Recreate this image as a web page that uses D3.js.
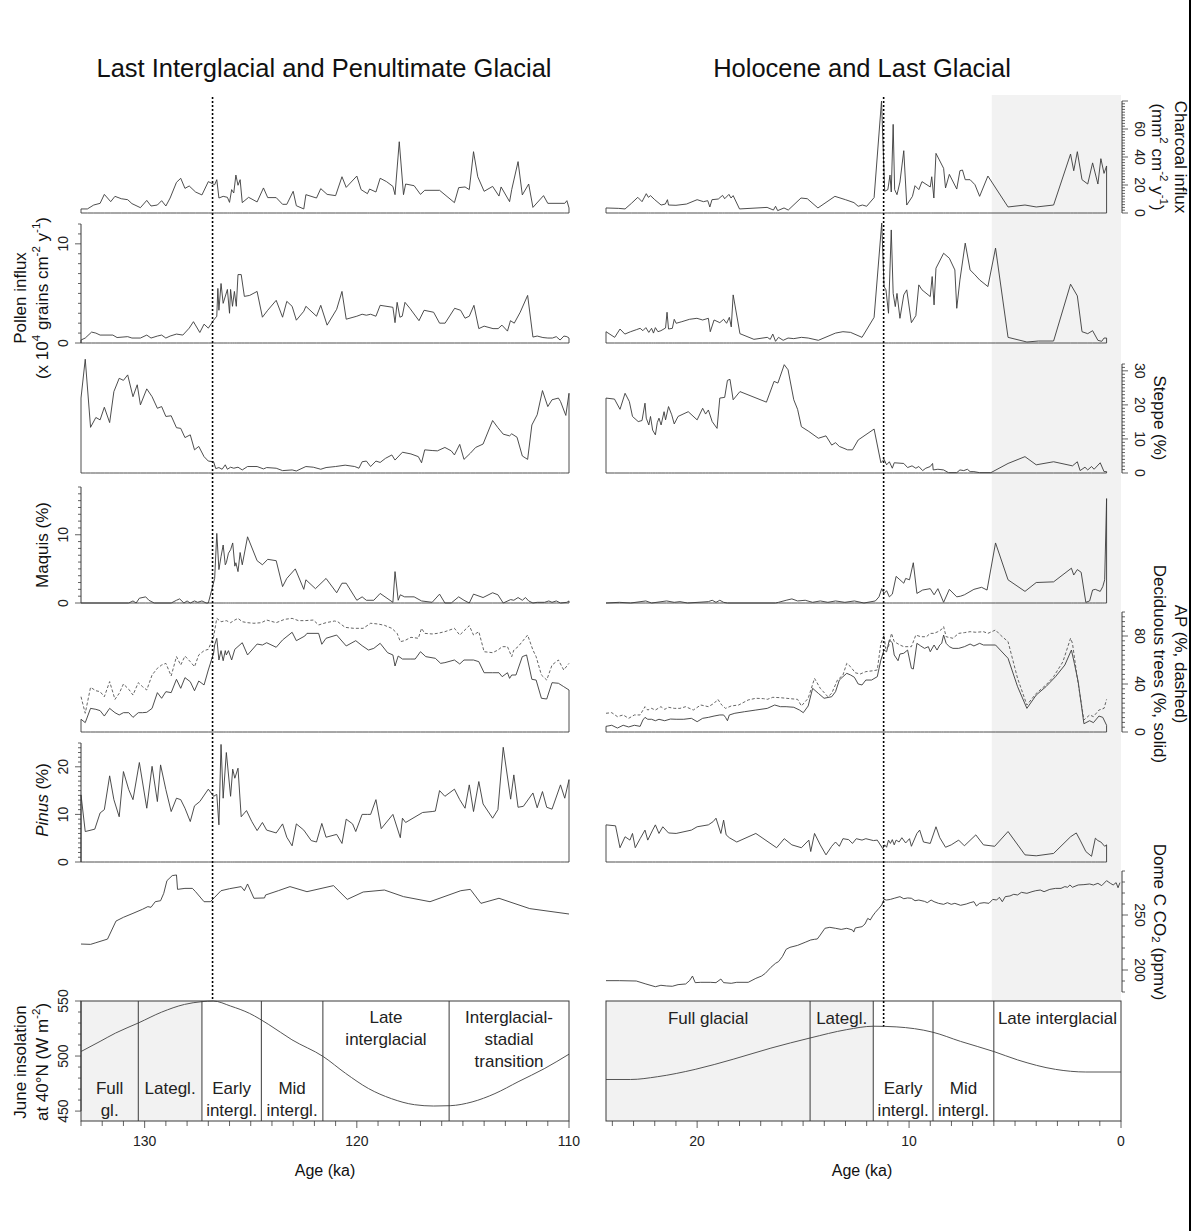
<!DOCTYPE html>
<html>
<head>
<meta charset="utf-8">
<script src="https://cdn.jsdelivr.net/npm/d3@7"></script>
<style>
body { margin: 0; background: #fff; }
svg { display: block; font-family: "Liberation Sans", Arial, sans-serif; }
</style>
</head>
<body>
<svg id="chart" width="1194" height="1231"></svg>
<script>
// ---- data: [age ka, value] ----
var charcoalLeft = [[133.0,2.9],[132.7,2.9],[132.4,5.7],[132.1,6.9],[131.9,13.3],[131.6,8.1],[131.4,11.9],[131.1,10.2],[130.8,9.5],[130.6,6.7],[130.2,3.8],[129.9,9.0],[129.7,5.0],[129.4,5.7],[129.2,8.8],[129.0,5.0],[128.8,10.7],[128.5,21.9],[128.3,24.8],[128.1,17.6],[127.9,19.3],[127.6,15.0],[127.3,12.9],[127.0,22.4],[126.7,20.2],[126.6,23.8],[126.5,10.7],[126.3,11.9],[126.1,11.2],[126.0,7.6],[125.9,16.7],[125.8,14.3],[125.7,27.1],[125.6,19.8],[125.5,23.8],[125.4,7.4],[125.1,11.2],[124.7,7.9],[124.4,17.9],[124.2,11.0],[123.8,11.0],[123.5,6.2],[123.3,6.2],[123.0,15.5],[122.85,5.2],[122.5,2.9],[122.4,13.1],[121.9,10.7],[121.7,17.4],[121.4,13.3],[121.0,12.4],[120.7,25.9],[120.5,18.3],[120.0,26.4],[119.8,16.7],[119.5,13.8],[119.4,17.1],[119.1,15.0],[118.9,24.8],[118.6,22.4],[118.3,19.0],[118.2,13.1],[118.0,50.9],[117.8,13.1],[117.7,20.7],[117.3,19.5],[117.0,13.3],[116.8,16.2],[116.1,16.2],[115.4,7.4],[115.2,18.1],[114.9,18.6],[114.7,16.7],[114.5,43.8],[114.3,25.9],[114.0,15.5],[113.6,19.0],[113.3,12.1],[113.2,18.6],[112.8,8.1],[112.7,16.7],[112.4,36.7],[112.2,12.9],[111.9,20.7],[111.7,4.0],[111.2,12.4],[111.0,6.9],[110.2,6.9],[110.1,8.8],[110.0,3.6]];
var charcoalRight = [[24.3,3.6],[23.7,3.3],[23.4,2.9],[23.1,6.9],[22.8,11.2],[22.6,8.1],[22.4,13.8],[22.3,11.2],[22.2,12.4],[22.0,9.5],[21.7,5.7],[21.5,6.4],[21.4,9.5],[21.35,5.7],[21.0,5.5],[20.5,6.4],[20.0,9.5],[19.7,8.1],[19.5,8.8],[19.4,4.3],[19.3,9.5],[19.0,10.0],[18.8,12.6],[18.7,10.2],[18.5,13.3],[18.4,10.7],[18.3,12.4],[18.0,2.9],[16.7,4.0],[16.4,2.1],[16.3,4.8],[16.2,1.7],[15.9,3.6],[15.7,2.1],[15.1,10.7],[14.8,10.2],[14.3,3.6],[13.5,11.9],[13.0,9.5],[12.6,7.4],[12.4,4.8],[12.2,5.7],[12.0,4.8],[11.65,11.0],[11.3,80],[11.15,15.5],[11.0,16.7],[10.9,27.1],[10.84,15.0],[10.75,63.3],[10.68,16.7],[10.57,13.1],[10.43,22.1],[10.25,44.5],[10.11,5.7],[9.84,11.9],[9.72,19.5],[9.54,16.7],[9.39,22.4],[9.0,18.6],[8.93,25.9],[8.83,10.7],[8.73,42.6],[8.37,31.9],[8.28,17.9],[8.10,27.6],[7.75,17.1],[7.60,30.2],[7.48,30.7],[7.35,23.8],[7.12,23.8],[6.89,20.2],[6.67,11.9],[6.28,26.4],[5.33,4.3],[4.53,5.7],[4.0,4.3],[3.18,5.7],[2.38,42.1],[2.23,30.2],[2.06,43.8],[1.84,23.8],[1.57,20.7],[1.34,35.8],[1.09,20.7],[0.95,38.8],[0.80,28.3],[0.68,33.6]];

var pollenLeft = [[133.0,0.3],[132.8,0.5],[132.5,1.1],[132.3,1.0],[132.1,0.8],[131.5,0.8],[131.3,0.55],[130.8,0.64],[130.6,0.5],[130.2,0.5],[129.9,0.8],[129.7,0.5],[129.4,0.7],[129.2,0.8],[129.0,0.5],[128.8,0.7],[128.5,0.9],[128.2,0.8],[127.9,1.5],[127.7,2.15],[127.4,1.06],[127.2,1.9],[127.0,1.5],[126.75,2.3],[126.6,2.7],[126.55,5.5],[126.5,3.3],[126.4,6.0],[126.3,4.0],[126.1,5.4],[126.0,3.0],[125.95,5.4],[125.86,3.7],[125.77,5.2],[125.68,3.7],[125.6,6.9],[125.45,6.9],[125.3,4.7],[125.05,4.8],[124.7,5.2],[124.45,2.6],[124.2,3.3],[123.8,4.3],[123.5,2.6],[123.3,4.2],[123.05,3.7],[122.85,2.3],[122.5,3.2],[122.4,3.7],[121.9,2.7],[121.7,3.8],[121.4,1.8],[120.95,3.4],[120.7,5.2],[120.5,2.4],[120.0,2.7],[119.75,2.9],[119.55,2.8],[119.35,2.9],[119.1,2.7],[118.9,3.8],[118.3,3.6],[118.2,2.05],[118.1,4.1],[117.97,2.6],[117.86,2.7],[117.73,4.1],[117.5,3.5],[117.07,2.25],[116.83,3.3],[116.38,3.1],[116.1,2.0],[115.84,2.0],[115.39,3.5],[115.11,3.3],[114.9,2.5],[114.7,2.7],[114.48,3.8],[114.25,1.45],[114.0,1.7],[113.58,1.45],[113.34,1.45],[113.16,1.8],[112.9,1.2],[112.76,2.25],[112.58,2.0],[112.3,3.1],[111.95,4.8],[111.7,0.6],[111.5,0.7],[111.23,0.55],[111.0,0.5],[110.78,0.5],[110.6,0.64],[110.42,0.3],[110.24,0.7],[110.1,0.64],[110.0,0.5]];
var pollenRight = [[24.3,1.14],[23.89,0.57],[23.64,1.41],[23.41,0.9],[23.14,1.14],[22.87,1.34],[22.69,1.48],[22.56,1.24],[22.42,1.55],[22.28,1.07],[22.15,1.48],[22.06,1.0],[21.97,1.55],[21.85,1.14],[21.71,1.24],[21.49,1.51],[21.42,3.1],[21.35,1.41],[21.17,1.48],[21.08,2.39],[20.99,1.99],[20.72,2.15],[20.36,2.39],[20.01,2.49],[19.74,2.32],[19.47,2.49],[19.38,1.14],[19.2,2.32],[18.93,2.05],[18.75,2.39],[18.61,1.99],[18.48,2.59],[18.39,1.62],[18.3,4.85],[17.98,0.94],[17.32,0.37],[16.69,0.57],[16.55,0.37],[16.43,0.9],[16.3,0.17],[16.16,0.57],[15.94,0.27],[15.71,0.5],[15.44,0.44],[15.08,0.57],[14.76,0.5],[14.28,0.27],[13.47,1.0],[13.12,1.14],[12.76,1.07],[12.22,0.57],[11.65,2.59],[11.29,12.1],[11.18,5.69],[11.09,5.36],[10.97,3.0],[10.84,11.4],[10.75,5.0],[10.65,3.67],[10.57,5.0],[10.43,2.49],[10.25,4.85],[10.11,5.36],[9.89,2.05],[9.68,2.76],[9.54,5.86],[9.39,5.36],[9.0,4.68],[8.91,6.7],[8.82,3.84],[8.73,7.54],[8.37,9.05],[8.1,8.55],[7.84,7.37],[7.75,3.5],[7.6,6.36],[7.35,10.07],[7.12,7.37],[6.89,6.87],[6.67,6.36],[6.28,5.69],[5.92,9.57],[5.33,0.57],[4.44,0.1],[3.9,0.2],[3.18,0.2],[2.38,5.93],[2.06,4.75],[1.84,1.14],[1.57,0.94],[1.34,1.24],[1.09,0.27],[0.91,0.17],[0.8,0.5],[0.68,0.5]];

var steppeLeft = [[133.0,22.0],[132.8,33.4],[132.55,13.4],[132.3,16.3],[132.1,15.6],[131.9,19.3],[131.65,14.8],[131.45,23.9],[131.2,27.8],[131.0,27.2],[130.8,28.8],[130.55,22.4],[130.35,25.9],[130.2,20.0],[129.9,24.7],[129.65,22.4],[129.4,19.0],[129.2,19.5],[129.0,16.6],[128.75,16.8],[128.5,13.3],[128.3,13.1],[128.1,10.4],[127.85,11.2],[127.65,6.8],[127.45,7.8],[127.2,4.8],[127.0,3.5],[126.75,3.3],[126.65,1.3],[126.5,1.6],[126.35,1.1],[126.2,2.4],[126.1,1.1],[125.95,1.7],[125.8,1.4],[125.6,1.7],[125.4,0.9],[125.15,1.9],[124.7,1.9],[124.4,1.2],[124.25,1.6],[123.8,1.4],[123.5,0.7],[123.05,0.9],[122.85,0.6],[122.4,1.9],[122.05,1.7],[121.7,1.1],[121.45,1.6],[121.0,1.9],[120.55,2.3],[120.1,1.9],[119.9,1.4],[119.75,3.3],[119.55,3.5],[119.35,1.9],[119.1,3.5],[118.9,3.1],[118.65,4.3],[118.35,5.3],[118.2,3.8],[117.85,6.1],[117.45,5.6],[117.1,4.8],[116.95,3.0],[116.8,6.8],[116.45,6.6],[116.2,6.5],[115.85,7.5],[115.55,6.5],[115.4,5.3],[115.15,8.4],[114.95,4.0],[114.65,5.8],[114.4,7.5],[114.05,8.5],[113.6,15.4],[113.35,13.3],[113.1,11.4],[112.8,10.9],[112.7,11.5],[112.45,10.5],[112.2,5.0],[111.95,4.0],[111.75,14.1],[111.5,17.1],[111.25,24.2],[111.0,19.5],[110.8,21.5],[110.5,22.0],[110.4,21.0],[110.15,16.9],[110.0,23.4]];
var steppeRight = [[24.3,22.0],[23.9,21.7],[23.64,18.7],[23.4,23.4],[23.2,21.0],[23.05,16.6],[22.78,15.1],[22.6,15.4],[22.46,20.5],[22.4,16.1],[22.28,14.1],[22.2,16.6],[22.1,12.6],[21.97,11.2],[21.88,14.8],[21.8,16.1],[21.7,14.1],[21.56,18.0],[21.49,15.6],[21.35,19.5],[21.2,17.1],[21.08,14.4],[20.9,16.6],[20.42,18.0],[20.0,15.6],[19.74,19.0],[19.6,17.3],[19.47,18.5],[19.29,15.1],[19.06,13.1],[18.93,22.0],[18.7,22.2],[18.57,27.2],[18.45,27.5],[18.3,21.5],[17.98,23.9],[16.73,20.8],[16.37,26.9],[16.19,26.4],[15.89,31.8],[15.71,30.3],[15.44,21.5],[15.26,18.7],[15.08,13.6],[14.73,12.2],[14.28,10.2],[13.92,10.9],[13.65,8.2],[13.47,8.9],[13.29,7.8],[12.9,6.8],[12.67,6.8],[12.4,9.7],[11.65,12.9],[11.33,3.0],[11.18,4.0],[11.06,2.4],[10.93,3.3],[10.79,1.4],[10.7,3.0],[10.25,2.8],[10.07,1.6],[9.86,2.1],[9.68,1.4],[9.54,1.9],[9.36,0.7],[9.21,1.4],[9.0,1.9],[8.89,2.8],[8.86,0.9],[8.64,1.1],[8.37,0.9],[8.14,0.1],[7.75,0.1],[7.6,0.9],[7.42,0.7],[7.25,1.1],[7.12,0.4],[6.94,0.4],[6.67,0.1],[6.14,0.1],[5.33,2.8],[4.53,4.8],[4.0,2.4],[3.18,3.3],[2.29,2.1],[2.06,3.3],[1.93,0.7],[1.7,1.7],[1.57,0.9],[1.39,1.9],[1.27,1.1],[0.98,3.0],[0.8,0.4],[0.68,0.4]];

var maquisLeft = [[133.0,0],[130.75,0],[130.55,0.3],[130.4,0],[130.25,0.7],[129.95,0.9],[129.8,0.4],[129.55,0],[128.75,0],[128.5,0.4],[128.35,0.6],[128.15,0],[128.0,0.3],[127.85,0],[127.65,0.3],[127.5,0.1],[127.3,0.3],[127.1,0],[127.0,0],[126.8,2.4],[126.7,3.6],[126.6,10.2],[126.5,4.9],[126.4,6.8],[126.3,8.5],[126.2,5.6],[126.15,5.9],[126.05,7.3],[125.95,7.8],[125.85,8.8],[125.75,5.4],[125.7,5.9],[125.6,4.6],[125.5,7.4],[125.4,5.6],[125.15,9.7],[124.7,6.2],[124.45,5.6],[124.2,6.4],[123.8,6.2],[123.5,2.4],[123.3,3.6],[122.9,5.0],[122.5,2.0],[122.4,3.4],[121.95,2.1],[121.45,3.6],[120.95,1.5],[120.7,2.9],[120.5,2.9],[120.0,0.4],[119.75,0.9],[119.55,0.4],[119.2,0.4],[118.9,1.4],[118.3,0.1],[118.2,4.6],[118.05,0.4],[117.95,1.2],[117.75,0.9],[117.3,0.9],[116.95,0.3],[116.45,0.1],[116.1,1.3],[115.85,0],[115.55,0],[115.2,0.9],[114.95,0.4],[114.7,0],[114.5,1.3],[114.05,0.8],[113.6,1.5],[113.35,1.2],[113.1,0],[112.75,0.5],[112.6,0.4],[112.4,0.8],[112.2,0.4],[112.05,0.8],[111.9,0.3],[111.7,0],[111.5,0.1],[111.15,0.1],[110.95,0.3],[110.8,0.1],[110.6,0.3],[110.4,0],[110.1,0.1],[110.0,0.3]];
var maquisRight = [[24.3,0],[23.67,0.1],[23.14,0],[22.42,0.3],[22.15,0],[21.44,0.3],[21.08,0.1],[20.81,0.2],[20.45,0],[19.47,0.2],[19.29,0.4],[19.11,0.1],[18.93,0.4],[18.75,0.1],[18.57,0],[16.3,0],[16.16,0.1],[15.8,0.4],[15.53,0.6],[15.26,0.3],[14.9,0.4],[14.55,0.1],[14.19,0.3],[13.83,0.1],[13.47,0.3],[13.03,0.1],[12.58,0.3],[12.13,0],[11.59,0.3],[11.42,0.9],[11.29,2.1],[11.18,1.4],[11.06,1.8],[10.93,0.9],[10.79,1.3],[10.61,3.9],[10.43,3.4],[10.25,2.9],[10.16,3.6],[9.98,3.4],[9.8,5.9],[9.63,1.4],[9.36,1.9],[9.0,2.1],[8.82,1.2],[8.64,2.1],[8.37,0.1],[8.1,2.0],[7.75,0.9],[7.57,1.0],[7.39,1.2],[6.94,2.0],[6.58,2.3],[6.32,1.9],[5.92,8.8],[5.33,3.4],[4.53,1.7],[4.0,3.0],[3.18,3.1],[2.34,5.1],[2.23,4.1],[2.06,4.9],[1.88,4.5],[1.66,0.1],[1.48,0.3],[1.34,1.9],[1.21,2.0],[0.98,1.7],[0.86,2.4],[0.77,3.4],[0.68,15.3]];

var apLeft = [[133.0,29.4],[132.8,15.6],[132.55,37.2],[132.3,34.4],[132.1,33.6],[131.9,29.4],[131.65,42.0],[131.4,27.2],[131.2,32.2],[131.0,40.0],[130.75,35.6],[130.55,30.8],[130.3,41.1],[130.1,37.8],[129.9,35.0],[129.65,47.5],[129.4,53.1],[129.2,55.8],[129.0,57.2],[128.75,46.7],[128.5,62.8],[128.3,55.8],[128.1,63.3],[127.85,58.6],[127.65,54.4],[127.45,64.2],[127.2,67.8],[127.0,68.9],[126.75,79.4],[126.6,94.7],[126.4,91.9],[126.15,92.8],[125.95,91.1],[125.75,93.3],[125.6,94.7],[125.4,91.9],[125.15,91.1],[124.85,90.6],[124.5,91.1],[124.25,93.3],[123.8,91.1],[123.4,93.9],[123.05,94.7],[122.75,92.8],[122.45,92.8],[122.05,93.3],[121.8,89.2],[121.45,91.1],[121.05,92.5],[120.9,91.9],[120.55,87.2],[120.15,86.4],[119.7,86.4],[119.35,90.6],[119.0,90.0],[118.7,88.9],[118.35,86.4],[118.1,82.2],[117.95,75.3],[117.75,76.1],[117.45,78.9],[117.1,78.1],[116.95,86.4],[116.8,82.2],[116.45,81.7],[116.2,82.2],[115.85,83.6],[115.4,86.4],[115.15,80.8],[114.7,88.6],[114.5,80.8],[114.25,83.6],[114.0,66.9],[113.6,66.1],[113.35,68.3],[113.15,71.1],[112.9,71.1],[112.7,62.8],[112.6,68.3],[112.4,71.1],[111.95,80.8],[111.7,68.3],[111.55,62.8],[111.3,47.5],[111.05,43.3],[110.8,55.8],[110.5,60.0],[110.25,51.7],[110.0,57.2]];
var deciduousLeft = [[133.0,10.6],[132.8,7.8],[132.55,19.7],[132.3,18.9],[132.1,17.8],[131.9,13.3],[131.65,19.7],[131.4,16.1],[131.2,14.2],[131.0,16.1],[130.75,16.1],[130.55,12.2],[130.3,16.1],[130.1,16.1],[129.9,16.4],[129.65,19.7],[129.4,32.8],[129.2,28.1],[129.0,33.6],[128.75,32.8],[128.5,43.9],[128.3,36.4],[128.1,45.3],[127.85,41.9],[127.65,34.4],[127.45,42.5],[127.2,39.2],[127.0,51.7],[126.75,65.6],[126.7,72.5],[126.6,78.1],[126.5,60.0],[126.4,67.8],[126.3,59.4],[126.2,67.8],[126.15,64.2],[126.05,67.8],[125.9,60.0],[125.75,68.9],[125.4,74.4],[125.15,64.2],[124.7,73.3],[124.45,72.5],[124.25,74.4],[123.8,70.6],[123.5,76.7],[123.05,83.1],[122.85,76.1],[122.45,80.0],[122.35,82.2],[121.8,82.2],[121.65,73.1],[121.45,78.1],[120.95,80.8],[120.5,71.7],[120.05,76.1],[119.75,71.9],[119.45,68.3],[119.2,69.7],[118.9,73.9],[118.55,66.1],[118.3,64.2],[118.2,55.0],[118.05,63.3],[117.85,60.8],[117.45,60.8],[117.25,60.8],[117.0,66.9],[116.75,62.8],[116.3,61.4],[116.05,57.2],[115.85,57.8],[115.4,60.0],[115.15,56.7],[114.95,60.0],[114.5,60.0],[114.25,58.6],[114.0,49.4],[113.6,49.4],[113.3,49.4],[113.15,46.1],[112.9,49.4],[112.8,44.7],[112.7,47.5],[112.5,47.5],[112.2,62.8],[112.0,64.2],[111.75,43.9],[111.55,43.3],[111.3,28.1],[111.05,27.5],[110.8,41.1],[110.5,40.6],[110.25,37.8],[110.0,35.0]];
var apRight = [[24.3,15.6],[24.03,16.1],[23.76,12.8],[23.49,14.2],[23.23,11.4],[22.96,14.2],[22.69,14.2],[22.46,21.1],[22.33,18.3],[22.15,19.7],[21.97,18.3],[21.71,21.1],[21.53,18.9],[21.35,20.6],[21.08,19.7],[20.81,19.7],[20.54,21.1],[20.18,18.3],[19.83,22.5],[19.47,21.1],[19.2,23.9],[19.02,27.2],[18.84,22.5],[18.66,19.7],[18.39,21.7],[18.04,22.5],[17.59,26.7],[17.23,28.1],[16.87,27.8],[16.69,27.2],[16.43,28.9],[16.07,28.6],[15.62,27.8],[15.26,27.2],[15.08,21.7],[14.76,28.1],[14.46,44.7],[14.19,36.4],[13.83,29.4],[13.65,32.2],[13.38,43.3],[13.12,47.5],[12.94,57.2],[12.76,54.4],[12.54,49.4],[12.31,48.3],[12.04,50.3],[11.68,51.1],[11.5,51.7],[11.33,73.9],[11.18,80.8],[11.11,69.7],[10.97,71.1],[10.83,82.2],[10.7,75.3],[10.43,72.5],[10.25,71.1],[9.89,71.1],[9.68,80.8],[9.45,79.4],[9.18,79.4],[9.0,82.2],[8.82,82.2],[8.64,83.6],[8.5,85.0],[8.37,87.8],[8.25,79.4],[7.93,78.1],[7.66,82.2],[7.39,82.8],[7.12,83.6],[6.85,83.1],[6.49,83.6],[6.28,82.2],[5.92,85.0],[5.69,80.8],[5.33,75.3],[4.88,44.7],[4.44,22.5],[4.0,32.2],[3.54,39.2],[3.18,46.1],[2.74,58.6],[2.38,78.1],[2.29,73.9],[2.06,44.7],[1.75,10.0],[1.48,14.2],[1.3,12.8],[1.04,18.3],[0.8,19.7],[0.68,27.2]];
var deciduousRight = [[24.3,4.7],[24.03,5.6],[23.76,3.3],[23.49,5.6],[23.23,4.2],[22.96,5.6],[22.69,4.7],[22.56,10.0],[22.46,12.2],[22.33,10.6],[22.15,10.6],[21.97,9.4],[21.8,10.6],[21.53,9.4],[21.26,10.8],[20.99,10.6],[20.63,10.6],[20.27,11.4],[20.0,8.6],[19.74,11.4],[19.47,12.2],[19.2,13.3],[18.93,14.2],[18.75,14.2],[18.66,12.2],[18.57,9.4],[18.48,14.2],[18.22,15.6],[17.77,16.9],[17.23,18.3],[16.69,19.7],[16.34,22.5],[16.07,21.1],[15.8,21.1],[15.44,20.6],[15.17,18.3],[14.99,16.1],[14.76,21.7],[14.55,36.4],[14.28,32.2],[14.01,28.1],[13.65,29.4],[13.47,33.6],[13.29,43.3],[13.12,46.1],[12.94,48.9],[12.76,47.5],[12.58,45.6],[12.4,40.0],[12.22,39.2],[12.04,43.3],[11.77,43.3],[11.5,46.1],[11.33,60.0],[11.18,68.3],[11.06,66.9],[10.93,76.7],[10.79,74.4],[10.7,64.2],[10.52,59.4],[10.43,65.0],[10.25,65.6],[10.07,68.3],[9.89,53.1],[9.8,52.5],[9.63,73.9],[9.45,71.7],[9.27,69.7],[9.09,71.1],[9.0,66.9],[8.82,72.5],[8.68,68.3],[8.55,72.5],[8.46,73.9],[8.37,80.8],[8.25,73.9],[8.1,71.1],[7.93,69.7],[7.66,69.7],[7.39,71.1],[7.12,73.3],[6.94,71.7],[6.67,73.9],[6.49,72.5],[6.23,72.5],[5.92,72.5],[5.33,61.4],[4.88,37.8],[4.44,19.7],[4.0,30.8],[3.54,37.8],[3.09,46.1],[2.65,55.8],[2.34,68.3],[2.2,57.2],[2.02,41.9],[1.75,6.9],[1.48,9.4],[1.3,7.8],[1.04,13.3],[0.86,12.2],[0.68,5.6]];

var pinusLeft = [[133.0,14.1],[132.8,6.4],[132.35,6.9],[132.1,10.3],[131.9,11.0],[131.65,18.1],[131.45,13.1],[131.2,9.5],[131.0,19.0],[130.75,15.2],[130.55,13.1],[130.25,20.9],[129.9,11.3],[129.65,20.1],[129.4,12.7],[129.25,20.4],[129.0,15.2],[128.75,10.6],[128.5,13.4],[128.3,13.1],[128.1,11.3],[127.85,8.5],[127.65,11.8],[127.4,12.7],[127.0,15.3],[126.75,13.8],[126.6,14.2],[126.5,7.8],[126.4,24.7],[126.3,13.4],[126.15,23.0],[125.95,13.8],[125.85,19.5],[125.75,17.6],[125.6,19.7],[125.45,9.5],[125.2,10.8],[124.95,8.5],[124.7,6.6],[124.45,8.3],[124.25,6.7],[123.8,6.1],[123.5,8.0],[123.3,5.2],[123.05,3.4],[122.85,8.0],[122.5,6.7],[122.15,4.5],[121.9,4.2],[121.65,8.1],[121.45,5.2],[120.95,5.8],[120.7,3.9],[120.5,9.0],[120.2,8.0],[120.05,6.4],[119.75,10.0],[119.5,10.0],[119.35,10.0],[119.1,13.1],[118.85,7.0],[118.3,10.0],[117.95,5.1],[117.85,9.2],[117.7,8.3],[116.9,10.4],[116.45,10.6],[116.3,10.7],[116.1,15.0],[115.85,13.8],[115.4,15.3],[115.15,13.1],[114.9,11.3],[114.7,16.2],[114.5,10.6],[114.25,16.9],[114.05,12.2],[113.6,9.2],[113.35,11.0],[113.1,24.1],[112.75,13.2],[112.6,18.3],[112.4,11.5],[112.15,11.7],[111.7,14.5],[111.5,11.4],[111.25,14.8],[111.05,11.5],[110.8,11.1],[110.4,16.2],[110.2,13.4],[110.0,17.3]];
var pinusRight = [[24.3,7.8],[23.85,7.6],[23.64,3.0],[23.4,5.3],[23.17,4.6],[23.05,6.0],[22.92,3.0],[22.69,4.9],[22.46,6.7],[22.33,4.6],[22.1,6.7],[21.97,7.8],[21.8,6.0],[21.62,7.4],[21.35,6.1],[20.99,6.0],[20.27,6.7],[20.0,7.4],[19.47,7.8],[19.24,8.5],[19.11,9.2],[18.88,6.0],[18.75,8.8],[18.63,5.7],[18.48,5.1],[18.13,4.2],[17.23,6.0],[16.25,3.0],[15.89,4.9],[15.53,3.6],[15.08,3.0],[14.73,4.6],[14.64,2.2],[14.46,6.0],[14.19,3.6],[13.92,1.5],[13.65,3.3],[13.47,4.2],[13.29,3.3],[13.12,4.9],[12.85,4.7],[12.67,3.9],[12.49,4.9],[12.22,4.6],[12.04,4.9],[11.68,4.5],[11.5,4.6],[11.24,2.8],[11.15,3.6],[11.06,3.1],[10.97,4.6],[10.88,3.9],[10.79,4.7],[10.7,3.6],[10.61,4.6],[10.47,4.2],[10.34,5.1],[10.16,4.0],[9.98,4.9],[9.89,3.3],[9.63,6.0],[9.5,6.7],[9.32,4.2],[9.0,3.9],[8.73,7.4],[8.55,5.1],[8.28,3.1],[8.01,3.6],[7.66,4.6],[7.39,3.4],[6.85,5.7],[6.49,3.6],[5.96,3.3],[5.33,6.4],[4.53,1.5],[4.0,1.3],[3.18,1.8],[2.38,5.3],[2.11,6.1],[1.93,4.6],[1.66,2.2],[1.39,1.2],[1.21,5.0],[1.09,4.5],[0.95,4.2],[0.77,3.3],[0.68,3.6]];

var co2Left = [[133.0,223.6],[132.55,223.3],[132.3,224.8],[131.75,228.1],[131.35,244.5],[131.0,247.9],[130.55,251.5],[130.1,255.2],[129.85,257.6],[129.7,257.0],[129.5,262.1],[129.25,263.0],[129.1,269.7],[128.95,281.2],[128.7,285.8],[128.5,286.4],[128.45,273.3],[128.1,274.2],[127.75,274.2],[127.6,271.2],[127.2,262.1],[126.9,262.1],[126.7,266.1],[126.4,272.1],[126.0,273.9],[125.45,275.8],[125.3,272.1],[125.15,278.2],[124.85,265.2],[124.35,265.5],[124.3,268.2],[123.7,272.1],[123.15,275.8],[122.35,271.2],[121.1,276.7],[120.45,264.2],[119.7,270.9],[118.7,272.7],[117.8,266.7],[116.55,262.1],[115.1,272.1],[114.65,273.3],[114.15,260.6],[113.3,265.2],[111.85,255.8],[110.0,250.9]];
var co2Right = [[24.3,190.3],[23.67,190.3],[22.87,190.0],[22.42,187.3],[21.97,184.8],[21.71,186.1],[21.44,185.5],[21.17,185.2],[20.9,186.7],[20.54,187.3],[20.36,190.3],[20.22,194.5],[20.09,188.5],[19.83,188.8],[19.38,188.8],[19.11,188.5],[18.88,191.8],[18.75,188.5],[18.39,187.9],[18.13,188.8],[17.59,188.8],[17.23,192.4],[16.96,194.5],[16.78,197.0],[16.52,202.4],[16.3,206.1],[16.16,207.6],[15.98,212.1],[15.8,218.8],[15.62,220.6],[15.26,222.4],[14.9,225.2],[14.64,227.3],[14.46,227.9],[14.33,228.2],[14.19,231.8],[13.97,237.9],[13.74,238.8],[13.47,237.9],[13.2,236.9],[12.94,237.9],[12.67,236.4],[12.61,234.5],[12.54,238.2],[12.22,239.4],[12.08,241.8],[11.95,246.9],[11.83,245.5],[11.72,249.1],[11.59,252.4],[11.42,256.1],[11.29,259.1],[11.18,264.2],[11.06,263.6],[10.88,264.2],[10.7,265.2],[10.43,266.7],[10.25,264.8],[10.07,265.5],[9.89,265.2],[9.72,263.0],[9.54,263.6],[9.27,262.4],[9.14,261.2],[8.96,263.6],[8.82,262.1],[8.61,260.6],[8.37,259.7],[8.19,261.2],[8.01,259.7],[7.84,260.6],[7.57,258.8],[7.3,260.0],[7.12,261.2],[6.94,262.1],[6.82,258.2],[6.67,260.6],[6.46,261.2],[6.23,260.6],[6.05,264.2],[5.87,263.6],[5.74,266.1],[5.6,262.1],[5.46,266.7],[5.24,267.3],[5.06,268.8],[4.88,268.2],[4.7,270.6],[4.44,269.7],[4.2,271.2],[4.02,272.1],[3.81,272.7],[3.63,271.2],[3.36,273.3],[3.09,274.2],[2.83,274.2],[2.65,275.8],[2.52,275.2],[2.41,277.3],[2.29,275.2],[2.02,277.3],[1.75,277.6],[1.48,278.2],[1.3,277.3],[1.09,278.8],[0.91,276.7],[0.68,281.2],[0.5,278.8],[0.37,277.3],[0.23,279.4],[0.14,274.8],[0.05,279.4]];

var insolationLeft = [[133,504.1],[132.1,513.3],[131.37,520.9],[130.29,530.1],[129.2,539.9],[128.12,546.9],[127.31,549.4],[126.77,550],[125.95,545.4],[125.05,538.7],[124.15,528.6],[123.06,514.8],[121.58,499.5],[120.53,484.3],[119.45,470.5],[118.37,461.3],[117.28,455.8],[116.38,454.6],[115.6,454.9],[114.57,458.3],[113.49,465.9],[112.4,476.6],[111.14,488.8],[110,501.7]];
var insolationRight = [[24.3,478.7],[23.14,478.7],[21.88,481.2],[20.09,487.9],[18.3,497.1],[16.52,507.2],[14.67,516.4],[12.94,524.0],[11.68,527.1],[10.61,526.5],[8.87,521.6],[7.57,513.3],[6.0,504.1],[4.88,496.5],[3.09,487.9],[1.66,485.5],[0,485.5]];

// zone boundaries (ka) and labels
var zonesLeft = [133, 130.3, 127.3, 124.5, 121.6, 115.65, 110];
var zoneLabelsLeft = [["Full", "gl."], ["Lategl."], ["Early", "intergl."], ["Mid", "intergl."], ["Late", "interglacial"], ["Interglacial-", "stadial", "transition"]];
var zonesRight = [24.3, 14.67, 11.69, 8.87, 6.0, 0];
var zoneLabelsRight = [["Full glacial"], ["Lategl."], ["Early", "intergl."], ["Mid", "intergl."], ["Late interglacial"]];
var boundaryLeft = 126.8, boundaryRight = 11.2, lateHoloceneStart = 6.1;

// ---- layout ----
var svg = d3.select("#chart");
var ink = "#3a3a3a";
var shade = "#f2f2f2";

var xL = d3.scaleLinear().domain([133, 110]).range([81, 569]);
var xR = d3.scaleLinear().domain([24.3, 0]).range([606, 1121]);

var yCharcoal = d3.scaleLinear().domain([0, 80]).range([213, 101]);
var yPollen = d3.scaleLinear().domain([0, 12]).range([343, 224]);
var ySteppe = d3.scaleLinear().domain([0, 32]).range([473, 364]);
var yMaquis = d3.scaleLinear().domain([0, 17]).range([603, 487]);
var yAP = d3.scaleLinear().domain([0, 100]).range([732, 612]);
var yPinus = d3.scaleLinear().domain([0, 25]).range([862, 743]);
var yCO2 = d3.scaleLinear().domain([180, 290]).range([992, 871]);
var yIns = d3.scaleLinear().domain([441, 550]).range([1121, 1001]);

// grey background for late Holocene (upper right panels)
svg.append("rect")
    .attr("x", xR(lateHoloceneStart)).attr("y", 95)
    .attr("width", xR(0) - xR(lateHoloceneStart)).attr("height", 1001 - 95)
    .attr("fill", shade);

// bottom insolation boxes with zones
function zoneBox(x, zones, labels, shaded, rows) {
    var g = svg.append("g");
    for (var i = 0; i < zones.length - 1; i++) {
        if (shaded.indexOf(i) >= 0) {
            g.append("rect")
                .attr("x", x(zones[i])).attr("y", yIns(550))
                .attr("width", x(zones[i + 1]) - x(zones[i]))
                .attr("height", yIns(441) - yIns(550))
                .attr("fill", shade);
        }
        var cx = (x(zones[i]) + x(zones[i + 1])) / 2;
        labels[i].forEach(function (line, j) {
            g.append("text")
                .attr("x", cx).attr("y", rows[i] + j * 22)
                .attr("text-anchor", "middle").attr("dominant-baseline", "central")
                .attr("font-size", 17).attr("fill", "#222")
                .text(line);
        });
    }
    return g;
}
zoneBox(xL, zonesLeft, zoneLabelsLeft, [0, 1], [1088, 1088, 1088, 1088, 1017, 1017]);
zoneBox(xR, zonesRight, zoneLabelsRight, [0, 1], [1018, 1018, 1088, 1088, 1018]);

var lineGen = function (x, y) {
    return d3.line().x(function (d) { return x(d[0]); }).y(function (d) { return y(d[1]); });
};
var areaGen = function (x, y) {
    return d3.area().x(function (d) { return x(d[0]); }).y0(y(0)).y1(function (d) { return y(d[1]); });
};

// insolation curves
[[insolationLeft, xL], [insolationRight, xR]].forEach(function (p) {
    svg.append("path").datum(p[0])
        .attr("d", lineGen(p[1], yIns).curve(d3.curveMonotoneX))
        .attr("fill", "none").attr("stroke", "#555").attr("stroke-width", 1);
});

// zone dividers and box outline
[[zonesLeft, xL], [zonesRight, xR]].forEach(function (p) {
    var z = p[0], x = p[1];
    for (var i = 1; i < z.length - 1; i++) {
        svg.append("line")
            .attr("x1", x(z[i])).attr("x2", x(z[i]))
            .attr("y1", yIns(550)).attr("y2", yIns(441))
            .attr("stroke", ink).attr("stroke-width", 1);
    }
    svg.append("rect")
        .attr("x", x(z[0])).attr("y", yIns(550))
        .attr("width", x(z[z.length - 1]) - x(z[0])).attr("height", yIns(441) - yIns(550))
        .attr("fill", "none").attr("stroke", ink).attr("stroke-width", 1);
});

// pollen-type series drawn as outlined polygons
var polySeries = [
    [charcoalLeft, xL, yCharcoal], [charcoalRight, xR, yCharcoal],
    [pollenLeft, xL, yPollen], [pollenRight, xR, yPollen],
    [steppeLeft, xL, ySteppe], [steppeRight, xR, ySteppe],
    [maquisLeft, xL, yMaquis], [maquisRight, xR, yMaquis],
    [deciduousLeft, xL, yAP], [deciduousRight, xR, yAP],
    [pinusLeft, xL, yPinus], [pinusRight, xR, yPinus]
];
polySeries.forEach(function (s) {
    svg.append("path").datum(s[0])
        .attr("d", areaGen(s[1], s[2]))
        .attr("fill", "none").attr("stroke", ink)
        .attr("stroke-width", 0.9).attr("stroke-linejoin", "round");
});

// AP dashed
[[apLeft, xL], [apRight, xR]].forEach(function (p) {
    svg.append("path").datum(p[0])
        .attr("d", lineGen(p[1], yAP))
        .attr("fill", "none").attr("stroke", "#555")
        .attr("stroke-width", 0.9).attr("stroke-dasharray", "3,2");
});

// CO2 lines
[[co2Left, xL], [co2Right, xR]].forEach(function (p) {
    svg.append("path").datum(p[0])
        .attr("d", lineGen(p[1], yCO2))
        .attr("fill", "none").attr("stroke", ink).attr("stroke-width", 0.9);
});

// dotted boundary lines, running down to the insolation curve
function interp(data, age) {
    for (var i = 0; i < data.length - 1; i++) {
        var a = data[i], b = data[i + 1];
        if ((age <= a[0] && age >= b[0])) {
            return a[1] + (b[1] - a[1]) * (a[0] - age) / (a[0] - b[0]);
        }
    }
    return data[0][1];
}
[[boundaryLeft, xL, insolationLeft], [boundaryRight, xR, insolationRight]].forEach(function (p) {
    svg.append("line")
        .attr("x1", p[1](p[0])).attr("x2", p[1](p[0]))
        .attr("y1", 97).attr("y2", yIns(interp(p[2], p[0])))
        .attr("stroke", "#000").attr("stroke-width", 1.6)
        .attr("stroke-dasharray", "2,2");
});

// ---- axes ----
function rich(sel, parts) {
    parts.forEach(function (p) {
        var t = sel.append("tspan").text(p[0]);
        if (p[1] === "sup") t.attr("font-size", "0.68em").attr("dy", "-0.55em");
        if (p[1] === "sub") t.attr("font-size", "0.68em").attr("dy", "0.35em");
        if (p[1] === "back-sup") t.attr("dy", "0.374em");
        if (p[1] === "back-sub") t.attr("dy", "-0.238em");
        if (p[1] === "it") t.attr("font-style", "italic");
    });
}

function yAxis(y, x0, side, step, majorStep, labels) {
    var g = svg.append("g");
    var d = y.domain();
    var first = Math.ceil(d[0] / step) * step;
    var ticks = d3.range(first, d[1] + 1e-6, step);
    var dir = side === "left" ? -1 : 1;
    g.append("line")
        .attr("x1", x0).attr("x2", x0)
        .attr("y1", y(ticks[0])).attr("y2", y(ticks[ticks.length - 1]))
        .attr("stroke", ink).attr("stroke-width", 1);
    ticks.forEach(function (t) {
        var major = Math.abs(t / majorStep - Math.round(t / majorStep)) < 1e-6;
        g.append("line")
            .attr("x1", x0).attr("x2", x0 + dir * (major ? 6 : 3))
            .attr("y1", y(t)).attr("y2", y(t))
            .attr("stroke", ink).attr("stroke-width", 0.8);
    });
    labels.forEach(function (v) {
        var lx = x0 + dir * 18;
        g.append("text")
            .attr("transform", "translate(" + lx + "," + y(v) + ") rotate(" + (side === "left" ? -90 : 90) + ")")
            .attr("text-anchor", "middle").attr("dominant-baseline", "central")
            .attr("font-size", 14).attr("fill", "#222")
            .text(v);
    });
}

function axisTitle(x, y, rot, parts) {
    var t = svg.append("text")
        .attr("transform", "translate(" + x + "," + y + ") rotate(" + rot + ")")
        .attr("text-anchor", "middle").attr("dominant-baseline", "central")
        .attr("font-size", 17).attr("fill", "#111");
    rich(t, parts);
}

// left axes
yAxis(yPollen, 81, "left", 1, 10, [0, 10]);
yAxis(yMaquis, 81, "left", 1, 10, [0, 10]);
yAxis(yPinus, 81, "left", 1, 10, [0, 10, 20]);
yAxis(yIns, 81, "left", 10, 50, [450, 500, 550]);
axisTitle(20, 298, -90, [["Pollen influx"]]);
axisTitle(42, 298, -90, [["(x 10"], ["4", "sup"], [" grains cm", "back-sup"], ["-2", "sup"], [" y", "back-sup"], ["-1", "sup"], [")", "back-sup"]]);
axisTitle(42, 545, -90, [["Maquis (%)"]]);
axisTitle(42, 800, -90, [["Pinus", "it"], [" (%)"]]);
axisTitle(20, 1062, -90, [["June insolation"]]);
axisTitle(42, 1062, -90, [["at 40°N (W m"], ["-2", "sup"], [")", "back-sup"]]);

// right axes
yAxis(yCharcoal, 1122, "right", 2, 20, [0, 20, 40, 60]);
yAxis(ySteppe, 1122, "right", 1, 10, [0, 10, 20, 30]);
yAxis(yAP, 1122, "right", 4, 40, [0, 40, 80]);
yAxis(yCO2, 1122, "right", 10, 50, [200, 250]);
axisTitle(1181, 157, 90, [["Charcoal influx"]]);
axisTitle(1158, 157, 90, [["(mm"], ["2", "sup"], [" cm", "back-sup"], ["-2", "sup"], [" y", "back-sup"], ["-1", "sup"], [")", "back-sup"]]);
axisTitle(1160, 418, 90, [["Steppe (%)"]]);
axisTitle(1181, 664, 90, [["AP (%, dashed)"]]);
axisTitle(1160, 664, 90, [["Deciduous trees (%, solid)"]]);
axisTitle(1160, 922, 90, [["Dome C CO"], ["2", "sub"], [" (ppmv)", "back-sub"]]);

// age axes
function xAxis(x, from, to, labels, cx) {
    var g = svg.append("g");
    d3.range(from, to + 1).forEach(function (a) {
        var major = a % 10 === 0;
        g.append("line")
            .attr("x1", x(a)).attr("x2", x(a))
            .attr("y1", 1121).attr("y2", 1121 + (major ? 7 : 5))
            .attr("stroke", ink).attr("stroke-width", 0.8);
    });
    labels.forEach(function (a) {
        g.append("text")
            .attr("x", x(a)).attr("y", 1141)
            .attr("text-anchor", "middle").attr("dominant-baseline", "central")
            .attr("font-size", 14).attr("fill", "#222")
            .text(a);
    });
    g.append("text")
        .attr("x", cx).attr("y", 1170)
        .attr("text-anchor", "middle").attr("dominant-baseline", "central")
        .attr("font-size", 16).attr("fill", "#111")
        .text("Age (ka)");
}
xAxis(xL, 110, 133, [130, 120, 110], 325);
xAxis(xR, 0, 24, [20, 10, 0], 862);

// titles
svg.append("text").attr("x", 324).attr("y", 68)
    .attr("text-anchor", "middle").attr("dominant-baseline", "central")
    .attr("font-size", 25.5).attr("fill", "#111")
    .text("Last Interglacial and Penultimate Glacial");
svg.append("text").attr("x", 862).attr("y", 68)
    .attr("text-anchor", "middle").attr("dominant-baseline", "central")
    .attr("font-size", 25.5).attr("fill", "#111")
    .text("Holocene and Last Glacial");

// right frame edge
svg.append("line")
    .attr("x1", 1190).attr("x2", 1190).attr("y1", 0).attr("y2", 1231)
    .attr("stroke", "#000").attr("stroke-width", 2);
</script>
</body>
</html>
